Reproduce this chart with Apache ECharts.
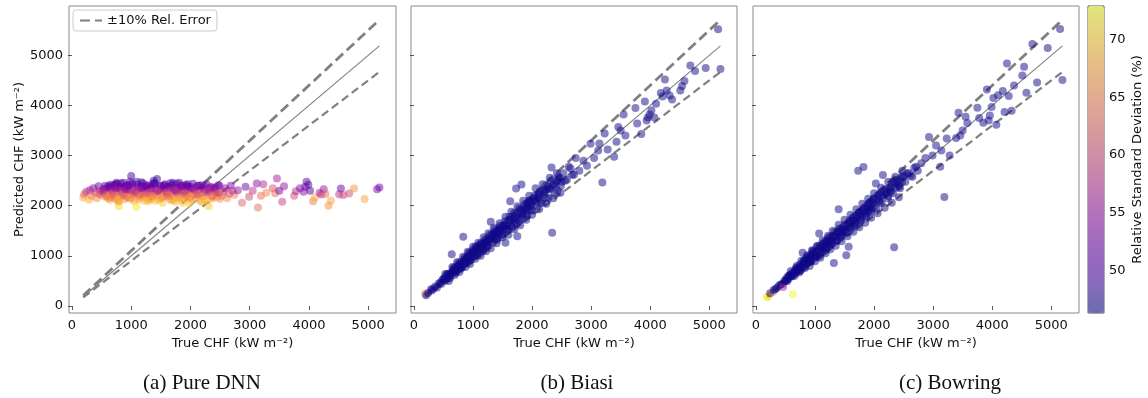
<!DOCTYPE html>
<html><head><meta charset="utf-8">
<script src="https://cdn.jsdelivr.net/npm/echarts@6/dist/echarts.min.js"></script>
<style>html,body{margin:0;padding:0;background:#fff}#c{width:1148px;height:398px}</style>
</head><body><div id="c"></div>
<script>
// ---- data ----
const panelTitles = ['(a) Pure DNN', '(b) Biasi', '(c) Bowring'];
const xTicks = [0, 1000, 2000, 3000, 4000, 5000];
const yTicks = [0, 1000, 2000, 3000, 4000, 5000];
const cbarTicks = [50, 55, 60, 65, 70];
const cbarRange = [46.3, 72.9];
const legendLabel = '±10% Rel. Error';

const lineX = [190, 5190];
const idealY = [190, 5190];
const upperY = [209, 5709];
const lowerY = [171, 4671];

const trueCHF = [
 190, 205, 240, 290, 300, 330, 360, 390, 420, 450, 460, 480,
 500, 520, 550, 570, 600, 626, 640, 660,
 680, 700, 720, 740, 760, 780, 790, 810,
 820, 835, 850, 870, 890, 900, 920, 940,
 960, 980, 1000, 1010, 1030, 1050, 1070, 1086,
 1100, 1120, 1140, 1160, 1180, 1200, 1220, 1240,
 1260, 1280, 1300, 1320, 1340, 1360, 1380, 1400,
 1420, 1436, 1450, 1470, 1490, 1510, 1530, 1550,
 1570, 1590, 1610, 1630, 1650, 1670, 1690, 1710,
 1730, 1750, 1770, 1790, 1810, 1820, 1840, 1860,
 1880, 1900, 1920, 1940, 1960, 1980, 2000, 2030,
 2060, 2090, 2120, 2150, 2180, 2210, 2240, 2270,
 2307, 2330, 2340, 2370, 2400, 2430, 2470, 2500,
 515, 545, 585, 615, 655, 695, 735, 775,
 805, 845, 880, 915, 950, 990, 1020, 1060,
 1110, 1150, 1190, 1230, 1270, 1310, 1350, 1390,
 1440, 1480, 1520, 1560, 1600, 1640, 1680, 1720,
 1760, 1800, 1850, 1890, 1930, 1970, 2010, 2050,
 2100, 2140, 2200, 2250, 2290, 2360, 2420, 2450,
 2560, 2620, 2680, 2740, 2800, 2870, 2930, 2990,
 3050, 3120, 3140, 3190, 3230, 3280, 3390, 3430,
 3460, 3500, 3550, 3580, 3750, 3780, 3850, 3910,
 3940, 3960, 3990, 4020, 4070, 4100, 4180, 4210,
 4250, 4280, 4330, 4370, 4510, 4540, 4580, 4680,
 4760, 4940, 5150, 5190,
 560, 610, 670, 710, 750, 800, 860, 905,
 930, 970, 1040, 1080, 1130, 1170, 1210, 1250,
 1290, 1330, 1370, 1410, 1460, 1500, 1540, 1580,
 1620, 1660, 1700, 1740, 1780, 1830, 1870, 1910,
 1950, 1990, 2040, 2080, 2130, 2170, 2230, 2280,
 2320, 2380, 2440, 2490, 2530, 2590, 2650, 2710,
 530, 590, 650, 690, 730, 770, 830, 870,
 910, 950, 1000, 1040, 1090, 1130, 1180, 1220,
 1260, 1300, 1350, 1400, 1450, 1500, 1550, 1600,
 1650, 1700, 1750, 1800, 1850, 1900, 1950, 2000,
 2060, 2120, 2180, 2240, 2300, 2360, 2420, 2480
];

const predDNN = [
 2166, 2230, 2280, 2120, 2310, 2200, 2350, 2260, 2150, 2390, 2240, 2300,
 2210, 2290, 2330, 2180, 2260, 2390, 2120, 2360,
 2240, 2410, 2150, 2300, 2440, 2080, 1992, 2280,
 2370, 2200, 2330, 2460, 2130, 2250, 2400, 2170,
 2310, 2480, 2591, 2220, 2350, 2100, 2280, 1978,
 2420, 2240, 2190, 2370, 2300, 2450, 2160, 2330,
 2270, 2090, 2400, 2230, 2360, 2150, 2500, 2280,
 2210, 2531, 2320, 2120, 2390, 2250, 2060, 2340,
 2430, 2190, 2290, 2370, 2140, 2260, 2410, 2200,
 2310, 2080, 2350, 2240, 2460, 2170, 2300, 2390,
 2120, 2270, 2420, 2200, 2340, 2050, 2380, 2230,
 2310, 2150, 2400, 2260, 2080, 2350, 2200, 2430,
 1992, 2290, 2370, 2180, 2330, 2250, 2410, 2140,
 2260, 2340, 2220, 2380, 2170, 2300, 2420, 2110,
 2350, 2240, 2390, 2200, 2310, 2140, 2440, 2260,
 2340, 2180, 2400, 2230, 2360, 2120, 2290, 2450,
 2200, 2330, 2170, 2410, 2250, 2370, 2110, 2300,
 2440, 2210, 2330, 2160, 2390, 2270, 2120, 2350,
 2230, 2400, 2190, 2320, 2100, 2370, 2270, 2180,
 2280, 2150, 2400, 2220, 2310, 2058, 2380, 2180,
 2300, 2445, 1966, 2200, 2430, 2260, 2350, 2250,
 2545, 2300, 2078, 2391, 2200, 2291, 2350, 2280,
 2380, 2477, 2420, 2300, 2092, 2166, 2258, 2225,
 2331, 2232, 1998, 2098, 2230, 2345, 2212, 2245,
 2345, 2132, 2330, 2365,
 2400, 2150, 2320, 2200, 2460, 2090, 2280, 2350,
 2180, 2420, 2240, 2300, 2130, 2470, 2210, 2380,
 2160, 2340, 2440, 2100, 2290, 2400, 2190, 2360,
 2230, 2450, 2120, 2330, 2270, 2410, 2060, 2300,
 2380, 2170, 2440, 2220, 2310, 2110, 2390, 2260,
 2330, 2150, 2280, 2400, 2200, 2350, 2240, 2300,
 2300, 2190, 2420, 2240, 2360, 2130, 2450, 2210,
 2330, 2400, 2170, 2290, 2480, 2230, 2350, 2100,
 2410, 2260, 2190, 2440, 2310, 2150, 2390, 2270,
 2200, 2460, 2320, 2140, 2380, 2250, 2430, 2180,
 2340, 2240, 2410, 2120, 2300, 2200, 2370, 2260
];

const predBiasi = [
 250, 215, 260, 335, 310, 345, 390, 370, 450, 470, 440, 520,
 540, 500, 600, 560, 650, 640, 1034, 720,
 700, 660, 790, 750, 810, 740, 880, 830,
 780, 1380, 900, 860, 960, 930, 1010, 900,
 1050, 970, 1120, 1040, 990, 1150, 1080, 1200,
 1130, 1060, 1240, 1180, 1120, 1290, 1230, 1200,
 1360, 1290, 1679, 1420, 1330, 1470, 1400, 1350,
 1510, 1440, 1560, 1490, 1420, 1600, 1540, 1260,
 1590, 1530, 1720, 2092, 1590, 1790, 1700, 1650,
 2345, 1393, 1760, 1700, 1900, 2425, 1830, 1960,
 1880, 1820, 2050, 1950, 2100, 1990, 1920, 2150,
 2070, 2210, 2140, 2050, 2300, 2230, 2150, 2380,
 2330, 2764, 1460, 2450, 2390, 2300, 2560, 2480,
 560, 530, 640, 590, 690, 760, 720, 830,
 780, 920, 880, 960, 940, 1080, 1050, 1110,
 1200, 1140, 1250, 1270, 1320, 1350, 1420, 1380,
 1500, 1530, 1590, 1610, 1640, 1720, 1740, 1780,
 1830, 1850, 1920, 1950, 1990, 2060, 2090, 2130,
 2170, 2230, 2280, 2330, 2350, 2420, 2500, 2530,
 2500, 2780, 2620, 2950, 2700, 2900, 2800, 3236,
 2950, 3100, 3243, 2465, 3443, 3124, 2976, 3275,
 3570, 3500, 3822, 3400, 3948, 3640, 3429, 4082,
 3700, 3760, 3820, 3900, 3762, 4034, 4250, 4180,
 4521, 4300, 4200, 4122, 4301, 4387, 4487, 4800,
 4687, 4746, 5520, 4730,
 640, 560, 760, 680, 850, 760, 960, 860,
 1060, 920, 1180, 1010, 1250, 1100, 1330, 1190,
 1420, 1260, 1530, 1330, 1600, 1420, 1690, 1500,
 1780, 1560, 1860, 1650, 1950, 1740, 2030, 1800,
 2100, 1900, 2200, 1990, 2280, 2080, 2400, 2160,
 2500, 2250, 2580, 2400, 2650, 2520, 2750, 2620,
 640, 500, 780, 620, 880, 680, 980, 780,
 1080, 840, 1180, 940, 1260, 1000, 1370, 1090,
 1450, 1150, 1560, 1250, 1650, 1370, 1780, 1420,
 1880, 1530, 1990, 1610, 2100, 1720, 2200, 1820,
 2350, 1930, 2430, 2040, 2560, 2150, 2650, 2260
];

const predBowring = [
 182, 181, 255, 281, 320, 340, 365, 410, 430, 440, 381, 500,
 520, 560, 540, 610, 590, 235, 680, 650,
 760, 690, 740, 830, 720, 800, 1060, 900,
 780, 930, 860, 990, 880, 940, 1000, 910,
 1100, 1020, 960, 1080, 1180, 1050, 1447, 1010,
 1160, 1230, 1150, 1200, 1110, 1280, 1350, 1220,
 1300, 1240, 1400, 860, 1380, 1300, 1490, 1930,
 1450, 1380, 1550, 1470, 1580, 1510, 1014, 1560,
 1180, 1660, 1620, 1750, 1690, 1600, 1800, 1740,
 2697, 1870, 1710, 1900, 1820, 2771, 1950, 1800,
 2010, 1890, 1960, 2080, 1930, 2050, 2150, 2445,
 2200, 2100, 2260, 2611, 2220, 2340, 2190, 2300,
 2440, 2480, 1174, 2360, 2520, 2410, 2470, 2600,
 500, 590, 620, 660, 640, 720, 780, 760,
 860, 820, 950, 890, 1040, 1010, 990, 1140,
 1090, 1250, 1170, 1300, 1260, 1380, 1340, 1460,
 1410, 1520, 1480, 1640, 1570, 1700, 1650, 1790,
 1760, 1880, 1850, 1980, 1920, 2060, 2000, 2150,
 2080, 2200, 2250, 2350, 2280, 2450, 2380, 2560,
 2650, 2600, 2760, 2700, 2850, 2950, 3370, 3000,
 3200, 2780, 3100, 2172, 3343, 3004, 3350, 3854,
 3400, 3500, 3775, 3650, 3954, 3750, 3655, 4321,
 3700, 3800, 3970, 4150, 3615, 4202, 4287, 3868,
 4840, 4188, 3894, 4401, 4600, 4773, 4253, 5226,
 4461, 5146, 5525, 4510,
 610, 600, 730, 760, 700, 880, 920, 960,
 880, 1080, 980, 1200, 1070, 1290, 1160, 1380,
 1240, 1470, 1300, 1540, 1400, 1620, 1460, 1700,
 1550, 1780, 1640, 1860, 1700, 1960, 1790, 2050,
 1880, 2130, 1950, 2220, 2050, 2300, 2150, 2370,
 2250, 2500, 2350, 2580, 2480, 2650, 2580, 2780,
 500, 700, 600, 800, 670, 900, 760, 1010,
 800, 1110, 890, 1200, 960, 1310, 1050, 1400,
 1130, 1500, 1200, 1620, 1290, 1720, 1390, 1820,
 1480, 1930, 1570, 2040, 1660, 2140, 1760, 2250,
 1850, 2360, 1960, 2480, 2060, 2580, 2170, 2700
];

const rsdDNN = [
 67, 63, 58, 68, 56, 64, 53, 60, 66, 51, 61, 57,
 64, 58, 55, 66, 60, 52, 68, 53,
 61, 51, 65, 57, 50, 68, 71, 59,
 52, 63, 55, 49, 66, 60, 51, 64,
 56, 50, 49, 62, 53, 67, 58, 72,
 50, 61, 65, 52, 57, 50, 66, 55,
 59, 69, 51, 62, 53, 67, 49, 58,
 63, 48, 56, 68, 52, 60, 70, 55,
 50, 64, 58, 53, 66, 61, 51, 63,
 56, 69, 54, 60, 49, 65, 57, 52,
 67, 59, 50, 63, 55, 70, 52, 61,
 56, 66, 51, 60, 68, 54, 63, 50,
 70, 57, 53, 65, 55, 61, 51, 66,
 61, 54, 62, 51, 65, 57, 50, 67,
 54, 61, 52, 63, 56, 66, 50, 60,
 54, 65, 51, 62, 53, 67, 58, 49,
 64, 55, 66, 51, 61, 53, 68, 57,
 50, 63, 55, 66, 52, 59, 67, 54,
 62, 51, 64, 56, 68, 53, 59, 65,
 58, 66, 53, 64, 55, 62, 52, 60,
 58, 54, 63, 63, 57, 65, 61, 63,
 56, 52, 59, 55, 60, 57, 53, 54,
 52, 51, 50, 50, 64, 68, 56, 58,
 55, 63, 66, 67, 58, 51, 59, 60,
 66, 67, 53, 52,
 51, 66, 55, 63, 49, 68, 59, 53,
 65, 51, 61, 57, 67, 49, 62, 52,
 66, 54, 50, 69, 58, 51, 64, 53,
 62, 50, 68, 55, 59, 51, 70, 57,
 52, 66, 50, 63, 56, 68, 52, 60,
 55, 66, 59, 52, 63, 55, 61, 57,
 56, 64, 51, 62, 54, 67, 50, 63,
 55, 52, 66, 58, 49, 62, 54, 69,
 51, 60, 65, 50, 57, 67, 52, 59,
 64, 50, 56, 68, 53, 61, 51, 66,
 55, 62, 51, 69, 57, 63, 53, 60
];

const rsdBiasi = [
 66, 46.4, 46.4, 50, 46.4, 46.4, 46.4, 46.4, 46.4, 46.4, 46.4, 46.4,
 46.4, 46.4, 46.4, 46.4, 46.4, 46.4, 46.4, 46.4, 46.4, 46.4, 46.4, 46.4, 46.4, 46.4, 46.4, 46.4,
 46.4, 46.4, 46.4, 46.4, 46.4, 46.4, 46.4, 46.4, 46.4, 46.4, 46.4, 46.4, 46.4, 46.4, 46.4, 46.4,
 46.4, 46.4, 46.4, 46.4, 46.4, 46.4, 46.4, 46.4, 46.4, 46.4, 46.4, 46.4, 46.4, 46.4, 46.4, 46.4,
 46.4, 46.4, 46.4, 46.4, 46.4, 46.4, 46.4, 46.4, 46.4, 46.4, 46.4, 46.4, 46.4, 46.4, 46.4, 46.4,
 46.4, 46.4, 46.4, 46.4, 46.4, 46.4, 46.4, 46.4, 46.4, 46.4, 46.4, 46.4, 46.4, 46.4, 46.4, 46.4,
 46.4, 46.4, 46.4, 46.4, 46.4, 46.4, 46.4, 46.4, 46.4, 46.4, 46.4, 46.4, 46.4, 46.4, 46.4, 46.4,
 46.4, 46.4, 46.4, 46.4, 46.4, 46.4, 46.4, 46.4, 46.4, 46.4, 46.4, 46.4, 46.4, 46.4, 46.4, 46.4,
 46.4, 46.4, 46.4, 46.4, 46.4, 46.4, 46.4, 46.4, 46.4, 46.4, 46.4, 46.4, 46.4, 46.4, 46.4, 46.4,
 46.4, 46.4, 46.4, 46.4, 46.4, 46.4, 46.4, 46.4, 46.4, 46.4, 46.4, 46.4, 46.4, 46.4, 46.4, 46.4,
 46.4, 46.4, 46.4, 46.4, 46.4, 46.4, 46.4, 46.4, 46.4, 46.4, 46.4, 46.4, 46.4, 46.4, 46.4, 46.4,
 46.4, 46.4, 46.4, 46.4, 46.4, 46.4, 46.4, 46.4, 46.4, 46.4, 46.4, 46.4, 46.4, 46.4, 46.4, 46.4,
 46.4, 46.4, 46.4, 46.4, 46.4, 46.4, 46.4, 46.4, 46.4, 46.4, 46.4, 46.4,
 46.4, 46.4, 46.4, 46.4, 46.4, 46.4, 46.4, 46.4, 46.4, 46.4, 46.4, 46.4, 46.4, 46.4, 46.4, 46.4,
 46.4, 46.4, 46.4, 46.4, 46.4, 46.4, 46.4, 46.4, 46.4, 46.4, 46.4, 46.4, 46.4, 46.4, 46.4, 46.4,
 46.4, 46.4, 46.4, 46.4, 46.4, 46.4, 46.4, 46.4, 46.4, 46.4, 46.4, 46.4, 46.4, 46.4, 46.4, 46.4,
 46.4, 46.4, 46.4, 46.4, 46.4, 46.4, 46.4, 46.4, 46.4, 46.4, 46.4, 46.4, 46.4, 46.4, 46.4, 46.4,
 46.4, 46.4, 46.4, 46.4, 46.4, 46.4, 46.4, 46.4, 46.4, 46.4, 46.4, 46.4, 46.4, 46.4, 46.4, 46.4,
 46.4, 46.4, 46.4, 46.4, 46.4, 46.4, 46.4, 46.4
];

const rsdBowring = [
 72, 71.5, 46.4, 65, 46.4, 46.4, 46.4, 46.4, 46.4, 46.4, 56, 46.4,
 46.4, 46.4, 46.4, 46.4, 46.4, 72.5, 46.4, 46.4, 46.4, 46.4, 46.4, 46.4, 46.4, 46.4, 46.4, 46.4,
 46.4, 46.4, 46.4, 46.4, 46.4, 46.4, 46.4, 46.4, 46.4, 46.4, 46.4, 46.4, 46.4, 46.4, 46.4, 46.4,
 46.4, 46.4, 46.4, 46.4, 46.4, 46.4, 46.4, 46.4, 46.4, 46.4, 46.4, 46.4, 46.4, 46.4, 46.4, 46.4,
 46.4, 46.4, 46.4, 46.4, 46.4, 46.4, 46.4, 46.4, 46.4, 46.4, 46.4, 46.4, 46.4, 46.4, 46.4, 46.4,
 46.4, 46.4, 46.4, 46.4, 46.4, 46.4, 46.4, 46.4, 46.4, 46.4, 46.4, 46.4, 46.4, 46.4, 46.4, 46.4,
 46.4, 46.4, 46.4, 46.4, 46.4, 46.4, 46.4, 46.4, 46.4, 46.4, 46.4, 46.4, 46.4, 46.4, 46.4, 46.4,
 46.4, 46.4, 46.4, 46.4, 46.4, 46.4, 46.4, 46.4, 46.4, 46.4, 46.4, 46.4, 46.4, 46.4, 46.4, 46.4,
 46.4, 46.4, 46.4, 46.4, 46.4, 46.4, 46.4, 46.4, 46.4, 46.4, 46.4, 46.4, 46.4, 46.4, 46.4, 46.4,
 46.4, 46.4, 46.4, 46.4, 46.4, 46.4, 46.4, 46.4, 46.4, 46.4, 46.4, 46.4, 46.4, 46.4, 46.4, 46.4,
 46.4, 46.4, 46.4, 46.4, 46.4, 46.4, 46.4, 46.4, 46.4, 46.4, 46.4, 46.4, 46.4, 46.4, 46.4, 46.4,
 46.4, 46.4, 46.4, 46.4, 46.4, 46.4, 46.4, 46.4, 46.4, 46.4, 46.4, 46.4, 46.4, 46.4, 46.4, 46.4,
 46.4, 46.4, 46.4, 46.4, 46.4, 46.4, 46.4, 46.4, 46.4, 46.4, 46.4, 46.4,
 46.4, 46.4, 46.4, 46.4, 46.4, 46.4, 46.4, 46.4, 46.4, 46.4, 46.4, 46.4, 46.4, 46.4, 46.4, 46.4,
 46.4, 46.4, 46.4, 46.4, 46.4, 46.4, 46.4, 46.4, 46.4, 46.4, 46.4, 46.4, 46.4, 46.4, 46.4, 46.4,
 46.4, 46.4, 46.4, 46.4, 46.4, 46.4, 46.4, 46.4, 46.4, 46.4, 46.4, 46.4, 46.4, 46.4, 46.4, 46.4,
 46.4, 46.4, 46.4, 46.4, 46.4, 46.4, 46.4, 46.4, 46.4, 46.4, 46.4, 46.4, 46.4, 46.4, 46.4, 46.4,
 46.4, 46.4, 46.4, 46.4, 46.4, 46.4, 46.4, 46.4, 46.4, 46.4, 46.4, 46.4, 46.4, 46.4, 46.4, 46.4,
 46.4, 46.4, 46.4, 46.4, 46.4, 46.4, 46.4, 46.4
];

// ---- chart ----
const FONT = 'DejaVu Sans';
const plasma = ['rgba(13,8,135,0.5)','rgba(65,4,157,0.5)','rgba(106,0,168,0.5)','rgba(143,13,164,0.5)',
  'rgba(177,42,144,0.5)','rgba(204,71,120,0.5)','rgba(225,100,98,0.5)','rgba(242,132,75,0.5)',
  'rgba(252,166,54,0.5)','rgba(252,206,37,0.5)','rgba(240,249,33,0.5)'];
const preds = [predDNN, predBiasi, predBowring];
const rsds = [rsdDNN, rsdBiasi, rsdBowring];
const gridDefs = [
  {left: 69, top: 6, width: 327, height: 307},
  {left: 411, top: 6, width: 326, height: 307},
  {left: 753, top: 6, width: 326, height: 307}
];
const captionX = [202, 577, 950];

const grid = gridDefs.map(g => Object.assign({show: true, borderColor: '#8a8a8a', borderWidth: 1, backgroundColor: 'transparent'}, g));
grid.push({left: 1088, top: 6, width: 16, height: 307, show: true, borderColor: '#555', borderWidth: 1});

const labelStyle = {fontFamily: FONT, fontSize: 13, color: '#111'};
const xAxis = [0, 1, 2].map(i => ({
  gridIndex: i, type: 'value', min: -50, max: 5470,
  name: 'True CHF (kW m⁻²)', nameLocation: 'middle', nameGap: 23,
  nameTextStyle: labelStyle,
  axisLine: {show: false},
  axisTick: {show: true, inside: false, length: 4, lineStyle: {color: '#555'}, customValues: xTicks},
  axisLabel: Object.assign({customValues: xTicks, formatter: v => String(v), margin: 6}, labelStyle),
  splitLine: {show: false}
}));
xAxis.push({gridIndex: 3, type: 'value', min: 0, max: 1, show: false});

const yAxis = [0, 1, 2].map(i => ({
  gridIndex: i, type: 'value', min: -140, max: 5985,
  name: i === 0 ? 'Predicted CHF (kW m⁻²)' : '', nameLocation: 'middle', nameGap: 42, nameRotate: 90,
  nameTextStyle: labelStyle,
  axisLine: {show: false},
  axisTick: {show: true, inside: false, length: 4, lineStyle: {color: '#555'}, customValues: yTicks},
  axisLabel: Object.assign({show: i === 0, customValues: yTicks, formatter: v => String(v), margin: 6}, labelStyle),
  splitLine: {show: false}
}));
yAxis.push({
  gridIndex: 3, type: 'value', position: 'right', min: cbarRange[0], max: cbarRange[1],
  name: 'Relative Standard Deviation (%)', nameLocation: 'middle', nameGap: 27, nameRotate: 90,
  nameTextStyle: labelStyle,
  axisLine: {show: false},
  axisTick: {show: true, inside: false, length: 4, lineStyle: {color: '#555'}, customValues: cbarTicks},
  axisLabel: Object.assign({customValues: cbarTicks, formatter: v => String(v), margin: 5}, labelStyle),
  splitLine: {show: false}
});

const series = [];
[0, 1, 2].forEach(i => {
  series.push({type: 'line', name: 'ideal', xAxisIndex: i, yAxisIndex: i, symbol: 'none', silent: true, z: 1,
    data: lineX.map((x, k) => [x, idealY[k]]), lineStyle: {color: '#808080', width: 1.1}});
  series.push({type: 'line', name: legendLabel, xAxisIndex: i, yAxisIndex: i, symbol: 'none', silent: true, z: 1,
    itemStyle: {color: '#808080', opacity: 0},
    data: lineX.map((x, k) => [x, upperY[k]]), lineStyle: {color: '#808080', width: 2.8, type: [10, 5]}});
  series.push({type: 'line', name: 'lower', xAxisIndex: i, yAxisIndex: i, symbol: 'none', silent: true, z: 1,
    data: lineX.map((x, k) => [x, lowerY[k]]), lineStyle: {color: '#808080', width: 2.2, type: [8, 4.5]}});
});
[0, 1, 2].forEach(i => {
  series.push({type: 'scatter', name: 'pts' + i, xAxisIndex: i, yAxisIndex: i, symbolSize: 8, z: 2,
    itemStyle: {opacity: 1},
    data: trueCHF.map((x, k) => [x, preds[i][k], rsds[i][k]])});
});

const option = {
  animation: false,
  backgroundColor: '#fff',
  grid, xAxis, yAxis, series,
  legend: {
    data: [{name: legendLabel, itemStyle: {opacity: 0}}], left: 73, top: 10, itemWidth: 22, itemHeight: 14, padding: [4, 6],
    borderColor: '#cccccc', borderWidth: 1, borderRadius: 3, backgroundColor: '#fff',
    textStyle: labelStyle, selectedMode: false
  },
  visualMap: {
    type: 'continuous', min: cbarRange[0], max: cbarRange[1], dimension: 2, seriesIndex: [9, 10, 11],
    calculable: false, orient: 'vertical', left: 1088, top: 6, itemWidth: 16, itemHeight: 307, padding: 0,
    inRange: {color: plasma}, hoverLink: false
  },
  title: panelTitles.map((t, i) => ({
    text: t, left: captionX[i], top: 373, textAlign: 'center', padding: 0,
    textStyle: {fontFamily: 'Liberation Serif', fontSize: 21, fontWeight: 'normal', color: '#111'}
  }))
};
const chart = echarts.init(document.getElementById('c'));
chart.setOption(option);
</script></body></html>
